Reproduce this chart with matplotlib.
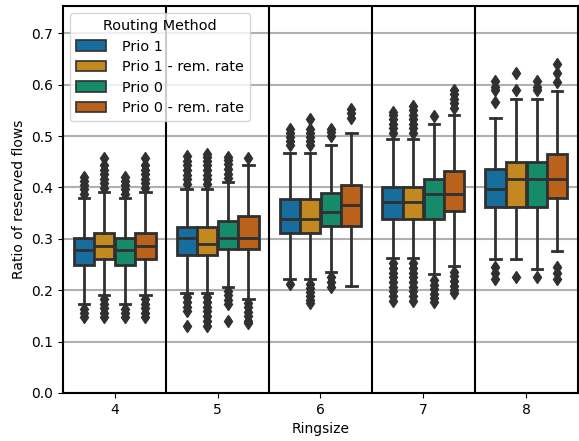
import colorsys

import matplotlib
matplotlib.use("Agg")
import matplotlib.pyplot as plt
from matplotlib.patches import Patch
import seaborn as sns

ringsizes = ["4", "5", "6", "7", "8"]
methods = ["Prio 1", "Prio 1 - rem. rate", "Prio 0", "Prio 0 - rem. rate"]

# box statistics, one row per ringsize, one column per method
q1 = [[0.250, 0.260, 0.250, 0.260],
      [0.268, 0.268, 0.281, 0.281],
      [0.312, 0.312, 0.325, 0.325],
      [0.338, 0.338, 0.338, 0.355],
      [0.362, 0.362, 0.362, 0.380]]
med = [[0.278, 0.286, 0.278, 0.286],
       [0.301, 0.290, 0.301, 0.301],
       [0.338, 0.338, 0.352, 0.366],
       [0.371, 0.371, 0.387, 0.388],
       [0.398, 0.416, 0.416, 0.416]]
q3 = [[0.302, 0.311, 0.301, 0.311],
      [0.323, 0.323, 0.335, 0.344],
      [0.377, 0.377, 0.390, 0.404],
      [0.400, 0.400, 0.416, 0.432],
      [0.436, 0.449, 0.449, 0.466]]
whislo = [[0.173, 0.191, 0.173, 0.191],
          [0.194, 0.194, 0.207, 0.183],
          [0.222, 0.222, 0.235, 0.208],
          [0.262, 0.262, 0.231, 0.247],
          [0.261, 0.261, 0.242, 0.277]]
whishi = [[0.380, 0.391, 0.380, 0.391],
          [0.398, 0.398, 0.410, 0.443],
          [0.468, 0.468, 0.482, 0.507],
          [0.494, 0.494, 0.524, 0.541],
          [0.536, 0.572, 0.572, 0.588]]
fliers = [
    [[0.388, 0.397, 0.405, 0.413, 0.421, 0.164, 0.155, 0.147],
     [0.399, 0.408, 0.417, 0.426, 0.435, 0.444, 0.458,
      0.183, 0.174, 0.165, 0.156, 0.147],
     [0.388, 0.397, 0.405, 0.413, 0.421, 0.164, 0.155, 0.147],
     [0.399, 0.408, 0.417, 0.426, 0.435, 0.444, 0.458,
      0.183, 0.174, 0.165, 0.156, 0.147]],
    [[0.407, 0.416, 0.425, 0.434, 0.443, 0.452, 0.461,
      0.186, 0.177, 0.168, 0.159, 0.130],
     [0.407, 0.416, 0.425, 0.434, 0.443, 0.452, 0.460, 0.466,
      0.186, 0.177, 0.168, 0.159, 0.150, 0.141, 0.131],
     [0.418, 0.427, 0.436, 0.445, 0.453, 0.460,
      0.199, 0.190, 0.181, 0.174, 0.141],
     [0.458, 0.176, 0.167, 0.158, 0.149, 0.141, 0.136]],
    [[0.482, 0.490, 0.498, 0.506, 0.514, 0.212],
     [0.482, 0.490, 0.498, 0.506, 0.514, 0.533,
      0.212, 0.204, 0.196, 0.188, 0.180, 0.176],
     [0.500, 0.508, 0.514, 0.225, 0.216, 0.206],
     [0.536, 0.545, 0.553]],
    [[0.506, 0.515, 0.524, 0.533, 0.541, 0.547,
      0.252, 0.243, 0.234, 0.225, 0.216, 0.207, 0.198, 0.189, 0.179],
     [0.506, 0.515, 0.524, 0.533, 0.542, 0.551, 0.559,
      0.252, 0.243, 0.234, 0.225, 0.216, 0.207, 0.198, 0.189, 0.179],
     [0.540, 0.220, 0.211, 0.202, 0.193, 0.185, 0.178],
     [0.555, 0.564, 0.573, 0.582, 0.589,
      0.236, 0.227, 0.218, 0.209, 0.200, 0.195]],
    [[0.567, 0.589, 0.596, 0.607, 0.246, 0.234, 0.222],
     [0.589, 0.622, 0.225],
     [0.589, 0.596, 0.607, 0.225],
     [0.606, 0.623, 0.640, 0.246, 0.234, 0.222]],
]

colors = [sns.desaturate(c, 0.75) for c in sns.color_palette("colorblind", 4)]
lum = min(colorsys.rgb_to_hls(*c)[1] for c in colors) * 0.6
gray = (lum, lum, lum)

fig = plt.figure(figsize=(5.79, 4.41), dpi=100)
ax = fig.add_axes([0.109, 0.109, 0.889, 0.877])

offsets = [-0.3, -0.1, 0.1, 0.3]
lw = 2.0
for g in range(len(ringsizes)):
    for h in range(len(methods)):
        st = {"q1": q1[g][h], "med": med[g][h], "q3": q3[g][h],
              "whislo": whislo[g][h], "whishi": whishi[g][h],
              "fliers": fliers[g][h]}
        ax.bxp([st], positions=[g + offsets[h]], widths=0.2 * 0.98,
               patch_artist=True, capwidths=[0.1], manage_ticks=False,
               boxprops=dict(facecolor=colors[h], edgecolor=gray, linewidth=lw),
               medianprops=dict(color=gray, linewidth=lw),
               whiskerprops=dict(color=gray, linewidth=lw),
               capprops=dict(color=gray, linewidth=lw),
               flierprops=dict(marker="d", markerfacecolor=gray,
                               markeredgecolor=gray, markersize=6))

for x in [0.5, 1.5, 2.5, 3.5]:
    ax.axvline(x, color="black", linewidth=1.5, zorder=3)

ax.set_xlim(-0.5, 4.5)
ax.set_ylim(0, 0.753)
ax.set_xticks(range(len(ringsizes)))
ax.set_xticklabels(ringsizes)
ax.set_yticks([0.0, 0.1, 0.2, 0.3, 0.4, 0.5, 0.6, 0.7])
ax.yaxis.grid(True, color="#b0b0b0", linewidth=1.5)
ax.set_axisbelow(True)
for sp in ax.spines.values():
    sp.set_color("black")
    sp.set_linewidth(1.5)
ax.set_xlabel("Ringsize")
ax.set_ylabel("Ratio of reserved flows")

handles = [Patch(facecolor=colors[i], edgecolor=gray, linewidth=1.2, label=m)
           for i, m in enumerate(methods)]
leg = ax.legend(handles=handles, title="Routing Method", loc="upper left",
                fontsize=10.4, title_fontsize=10.4, handlelength=2.1,
                handleheight=0.75, handletextpad=1.1, labelspacing=0.45)
leg.set_zorder(5)

fig.savefig("out.png", dpi=100)
